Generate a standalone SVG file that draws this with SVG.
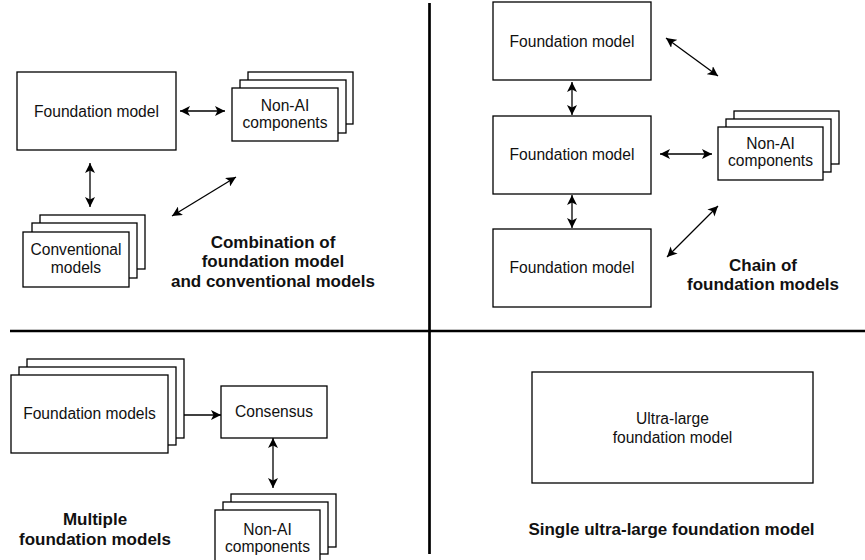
<svg xmlns="http://www.w3.org/2000/svg" width="865" height="560" viewBox="0 0 865 560">
<defs>
<marker id="ah" markerUnits="userSpaceOnUse" markerWidth="11" markerHeight="10" refX="10" refY="5" orient="auto-start-reverse" viewBox="0 0 11 10">
<path d="M0,0 L10,5 L0,10 L2.5,5 Z" fill="#000"/>
</marker>
</defs>
<style>
.box{fill:#fff;stroke:#000;stroke-width:1.3}
.t{font-family:"Liberation Sans",Arial,sans-serif;font-size:15.6px;fill:#111;text-anchor:middle}
.b{font-family:"Liberation Sans",Arial,sans-serif;font-size:17px;font-weight:bold;fill:#111;text-anchor:middle}
.c{stroke:#000;stroke-width:1.3;fill:none}
.both{marker-start:url(#ah);marker-end:url(#ah)}
.one{marker-end:url(#ah)}
.div{stroke:#000;stroke-width:2.7}
</style>
<rect width="865" height="560" fill="#fff"/>
<g id="dividers">
<line class="div" x1="429.5" y1="3" x2="429.5" y2="554"/>
<line class="div" x1="10" y1="331" x2="865" y2="331"/>
</g>
<g id="connectors">
<line class="c both" x1="180" y1="111" x2="225" y2="111"/>
<line class="c both" x1="90" y1="163" x2="90" y2="207"/>
<line class="c both" x1="172" y1="216" x2="236" y2="177"/>
<line class="c both" x1="572" y1="82" x2="572" y2="115"/>
<line class="c both" x1="572" y1="195" x2="572" y2="228"/>
<line class="c both" x1="660" y1="154" x2="712" y2="154"/>
<line class="c both" x1="666" y1="38" x2="718" y2="76"/>
<line class="c both" x1="667" y1="257" x2="718" y2="206"/>
<line class="c one" x1="168" y1="415" x2="221" y2="415"/>
<line class="c both" x1="273" y1="438" x2="273" y2="488"/>
</g>
<g id="tl-foundation">
<rect class="box" x="17" y="72" width="159" height="78"/>
<text class="t" x="96.5" y="116.5">Foundation model</text>
</g>
<g id="tl-nonai">
<rect class="box" x="248" y="72" width="105" height="52"/>
<rect class="box" x="240" y="80" width="106" height="53"/>
<rect class="box" x="232" y="88" width="106" height="53"/>
<text class="t" x="285" y="111">Non-AI</text>
<text class="t" x="285" y="128">components</text>
</g>
<g id="tl-conventional">
<rect class="box" x="40" y="215" width="105" height="54"/>
<rect class="box" x="32" y="223" width="105" height="55"/>
<rect class="box" x="23" y="232" width="106" height="55"/>
<text class="t" x="76" y="255">Conventional</text>
<text class="t" x="76" y="273">models</text>
</g>
<g id="tl-label">
<text class="b" x="273" y="248">Combination of</text>
<text class="b" x="273" y="267">foundation model</text>
<text class="b" x="273" y="287">and conventional models</text>
</g>
<g id="tr-fm1">
<rect class="box" x="493" y="2" width="158" height="78"/>
<text class="t" x="572" y="46.5">Foundation model</text>
</g>
<g id="tr-fm2">
<rect class="box" x="493" y="116" width="158" height="78"/>
<text class="t" x="572" y="160">Foundation model</text>
</g>
<g id="tr-fm3">
<rect class="box" x="493" y="229" width="158" height="78"/>
<text class="t" x="572" y="273">Foundation model</text>
</g>
<g id="tr-nonai">
<rect class="box" x="734" y="111" width="105" height="53"/>
<rect class="box" x="726" y="119" width="105" height="53"/>
<rect class="box" x="718" y="127" width="105" height="53"/>
<text class="t" x="770.5" y="148.5">Non-AI</text>
<text class="t" x="770.5" y="166">components</text>
</g>
<g id="tr-label">
<text class="b" x="763" y="271">Chain of</text>
<text class="b" x="763" y="290">foundation models</text>
</g>
<g id="bl-foundation">
<rect class="box" x="27" y="359" width="157" height="79"/>
<rect class="box" x="19" y="367" width="157" height="78"/>
<rect class="box" x="11" y="375" width="157" height="78"/>
<text class="t" x="89.5" y="418.5">Foundation models</text>
</g>
<g id="bl-consensus">
<rect class="box" x="221" y="386" width="106" height="52"/>
<text class="t" x="274" y="417">Consensus</text>
</g>
<g id="bl-nonai">
<rect class="box" x="231" y="494" width="105" height="53"/>
<rect class="box" x="223" y="502" width="105" height="52"/>
<rect class="box" x="215" y="510" width="105" height="52"/>
<text class="t" x="267.5" y="535">Non-AI</text>
<text class="t" x="267.5" y="551.5">components</text>
</g>
<g id="bl-label">
<text class="b" x="95" y="525">Multiple</text>
<text class="b" x="95" y="545">foundation models</text>
</g>
<g id="br-ultra">
<rect class="box" x="532" y="372" width="281" height="111"/>
<text class="t" x="672.5" y="424">Ultra-large</text>
<text class="t" x="672.5" y="443">foundation model</text>
</g>
<g id="br-label">
<text class="b" x="671.5" y="535">Single ultra-large foundation model</text>
</g>
</svg>
